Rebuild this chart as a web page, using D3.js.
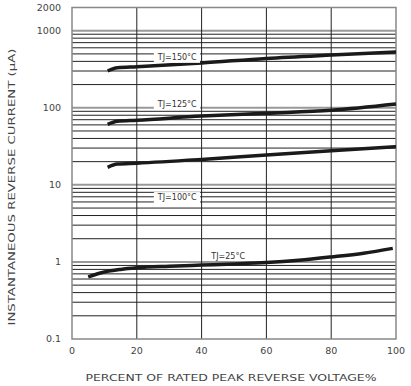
<!DOCTYPE html>
<html>
<head>
<meta charset="utf-8">
<script src="https://cdn.jsdelivr.net/npm/d3@7"></script>
<style>
  body { margin: 0; background: #fff; }
  text { font-family: "DejaVu Sans", sans-serif; fill: #444; }
</style>
</head>
<body>
<div id="chart"></div>
<script>
// percent of rated peak reverse voltage
let pct150 = [11, 14, 20, 40, 60, 80, 100];
let val150 = [300, 330, 340, 381, 437, 483, 528];
let pct125 = [11, 14, 20, 40, 60, 80, 100];
let val125 = [61, 67, 69, 78, 85, 93, 112];
let pct100 = [11, 14, 20, 40, 60, 80, 100];
let val100 = [16.9, 18.6, 19.1, 21.4, 24.4, 27.7, 31.2];
let pct25 = [5, 10, 15, 20, 30, 40, 50, 60, 70, 80, 90, 99];
let val25 = [0.64, 0.74, 0.8, 0.84, 0.88, 0.91, 0.94, 0.98, 1.05, 1.16, 1.3, 1.5];

let xTicks = [0, 20, 40, 60, 80, 100];
let yTicks = [0.1, 1, 10, 100, 1000, 2000];
let yTickLabels = ["0.1", "1", "10", "100", "1000", "2000"];

let curveNames = ["TJ=150°C", "TJ=125°C", "TJ=100°C", "TJ=25°C"];
let labelPct = [26.5, 26.5, 26.5, 43];
let labelVal = [455, 112, 6.9, 1.17];

let w = 411, h = 386;
let mLeft = 72, mRight = 396, mTop = 7.5, mBottom = 339;

const svg = d3.select("#chart")
              .append("svg")
              .attr("width", w)
              .attr("height", h);

const xScale = d3.scaleLinear().domain([0, 100]).range([mLeft, mRight]);
const yScale = d3.scaleLog().domain([0.1, 2000]).range([mBottom, mTop]);

// minor + major horizontal grid
let minor = [];
for (let d = 0.1; d < 2000; d *= 10) {
    for (let k = 2; k <= 9; k++) {
        if (d * k < 2000) minor.push(d * k);
    }
}
svg.selectAll(".minor")
   .data(minor)
   .enter()
   .append("line")
   .attr("x1", mLeft).attr("x2", mRight)
   .attr("y1", d => yScale(d)).attr("y2", d => yScale(d))
   .attr("stroke", "#222")
   .attr("stroke-width", 1);

svg.selectAll(".major")
   .data([1, 10, 100, 1000])
   .enter()
   .append("line")
   .attr("x1", mLeft).attr("x2", mRight)
   .attr("y1", d => yScale(d)).attr("y2", d => yScale(d))
   .attr("stroke", "#999")
   .attr("stroke-width", 2);

svg.selectAll(".vgrid")
   .data([20, 40, 60, 80])
   .enter()
   .append("line")
   .attr("x1", d => xScale(d)).attr("x2", d => xScale(d))
   .attr("y1", mTop).attr("y2", mBottom)
   .attr("stroke", "#222")
   .attr("stroke-width", 1);

// frame
svg.append("rect")
   .attr("x", mLeft).attr("y", mTop)
   .attr("width", mRight - mLeft).attr("height", mBottom - mTop)
   .attr("fill", "none")
   .attr("stroke", "#888")
   .attr("stroke-width", 1.5);

// curves
const line = d3.line()
               .x(d => xScale(d[0]))
               .y(d => yScale(d[1]))
               .curve(d3.curveMonotoneX);

let series = [[pct150, val150], [pct125, val125], [pct100, val100], [pct25, val25]];
series.forEach(s => {
    svg.append("path")
       .datum(s[0].map((p, i) => [p, s[1][i]]))
       .attr("d", line)
       .attr("fill", "none")
       .attr("stroke", "#1a1a1a")
       .attr("stroke-width", 3.5);
});

// curve labels with white boxes
curveNames.forEach((name, i) => {
    let t = svg.append("text")
       .attr("x", xScale(labelPct[i]))
       .attr("y", yScale(labelVal[i]))
       .attr("dy", "0.35em")
       .attr("font-size", 8)
       .style("fill", "#333")
       .text(name);
    let bb = t.node().getBBox();
    if (i < 3) {
        svg.insert("rect", () => t.node())
           .attr("x", bb.x - 3).attr("y", bb.y - 1)
           .attr("width", bb.width + 6).attr("height", bb.height + 2)
           .attr("fill", "#fff");
    }
});

// y tick labels
svg.selectAll(".ylab")
   .data(yTicks)
   .enter()
   .append("text")
   .attr("x", 61)
   .attr("y", d => yScale(d))
   .attr("dy", "0.35em")
   .attr("text-anchor", "end")
   .attr("font-size", 9.5)
   .text((d, i) => yTickLabels[i]);

// x tick labels
svg.selectAll(".xlab")
   .data(xTicks)
   .enter()
   .append("text")
   .attr("x", d => xScale(d))
   .attr("y", 354)
   .attr("text-anchor", "middle")
   .attr("font-size", 9.5)
   .text(d => d);

svg.append("text")
   .attr("x", 231)
   .attr("y", 381)
   .attr("text-anchor", "middle")
   .attr("font-size", 9)
   .attr("textLength", 291)
   .attr("lengthAdjust", "spacingAndGlyphs")
   .text("PERCENT OF RATED PEAK REVERSE VOLTAGE%");

svg.append("text")
   .attr("transform", "translate(15, 187) rotate(-90)")
   .attr("text-anchor", "middle")
   .attr("font-size", 8.5)
   .attr("textLength", 277)
   .attr("lengthAdjust", "spacingAndGlyphs")
   .text("INSTANTANEOUS REVERSE CURRENT (µA)");
</script>
</body>
</html>
